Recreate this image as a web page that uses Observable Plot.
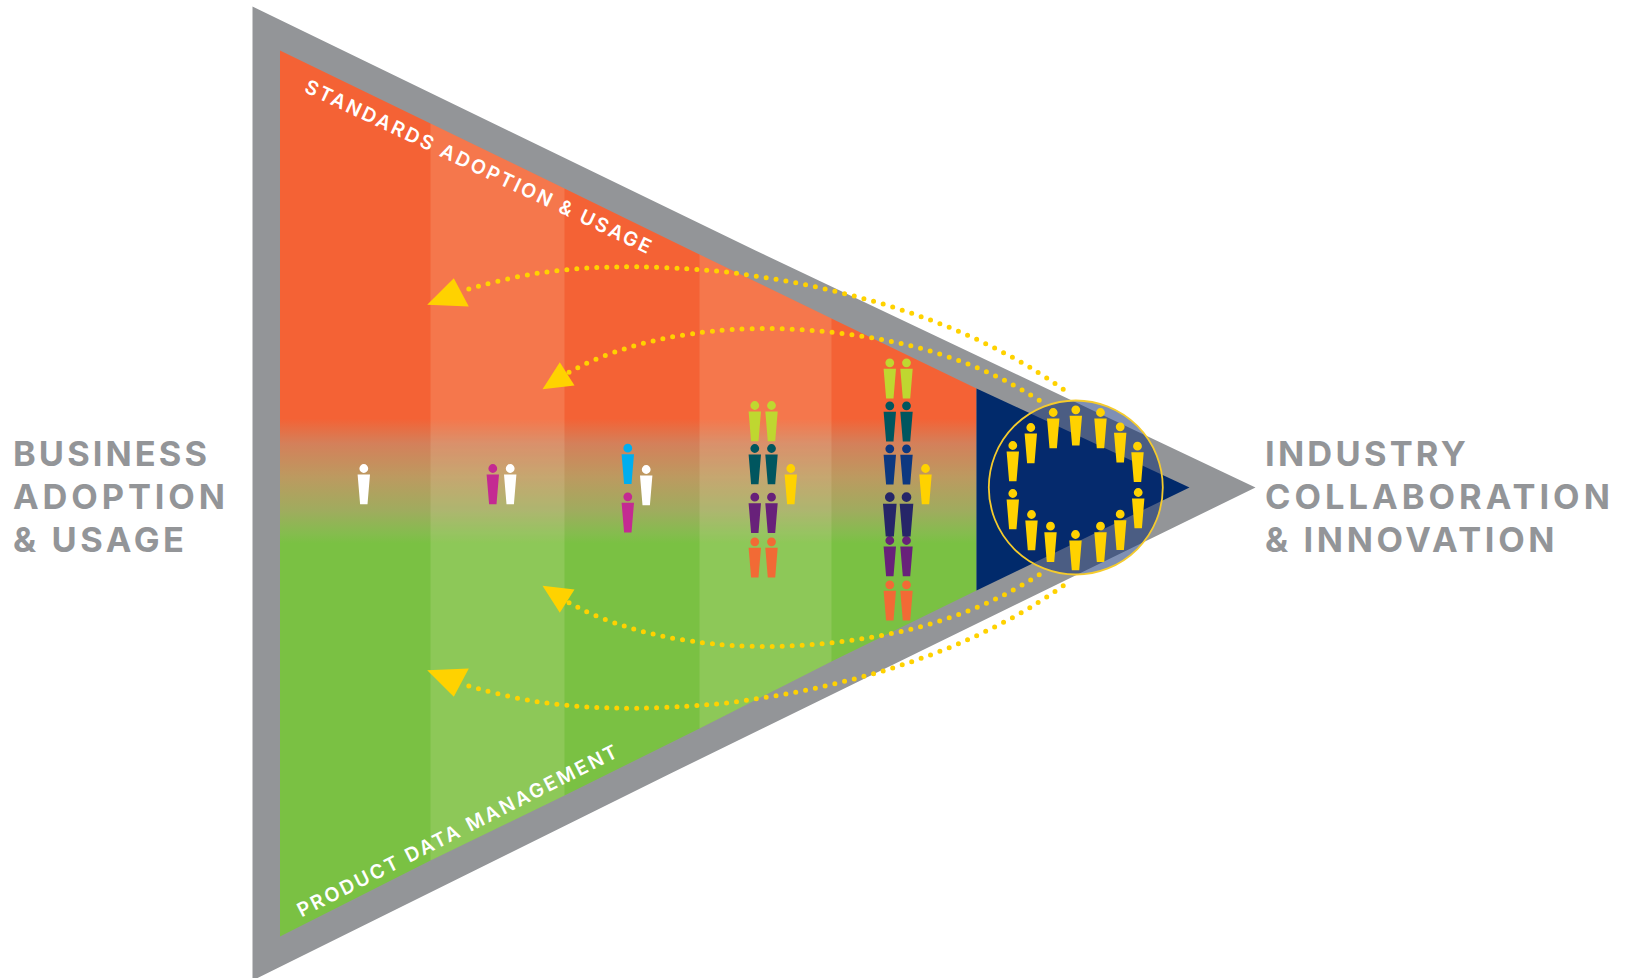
<!DOCTYPE html>
<html>
<head>
<meta charset="utf-8">
<style>html,body{margin:0;padding:0;background:#fff}svg{display:block}</style>
<script src="https://cdn.jsdelivr.net/npm/d3@7"></script>
<script src="https://cdn.jsdelivr.net/npm/@observablehq/plot@0.6"></script>
</head>
<body>
<div id="chart"></div>
<script>
// Diagram outline
const outerX = [252, 755, 1255, 670, 252];
const outerY = [6, 250, 487, 773, 980];
const fieldX = [279.5, 430, 564, 699, 831, 976, 976, 831, 699, 564, 430, 279.5];
const fieldY = [50, 123, 188, 254, 318, 388, 590, 661, 728, 795, 860, 936];
const paleAX = [430, 564, 564, 430];
const paleAY = [123, 188, 795, 860];
const paleBX = [699, 831, 831, 699];
const paleBY = [254, 318, 661, 728];
const coreX = [976, 1189, 976];
const coreY = [388, 487, 590];

// Dotted curves
const outerCurveX = [1062.7, 1029.3, 994.3, 958, 921, 883, 844.7, 805.7, 766.3, 727, 687.3, 637.3, 597.7, 558, 518.3, 470, 460];
const outerTopY = [388.7, 366.7, 347.7, 330.7, 316.3, 303.7, 293.3, 284.3, 277.3, 271.7, 268.3, 266.3, 267, 270, 276, 288, 291];
const outerBottomY = [585.3, 607.3, 626.3, 643.3, 657.7, 670.3, 680.7, 689.7, 696.7, 702.3, 705.7, 707.7, 707, 704, 698, 686, 683];
const innerCurveX = [1038.7, 1004.3, 968, 930, 891.3, 852, 812.3, 772.7, 732.7, 703, 663.7, 625, 587.7, 570, 562];
const innerTopY = [399.7, 380, 363.7, 350.7, 341, 334.3, 330, 328, 329, 331.7, 338, 348, 362, 371, 375];
const innerBottomY = [574.3, 594, 610.3, 623.3, 633, 639.7, 644, 646, 645, 642.3, 636, 626, 612, 603, 599];

// Arrow heads
const arrowAX = [453.3, 426.7, 468.3];
const arrowAY = [277.7, 304.3, 306];
const arrowBX = [559.3, 542, 574];
const arrowBY = [361.7, 388.7, 385];
const arrowCX = [559.3, 542, 574];
const arrowCY = [612.3, 585.3, 589];
const arrowDX = [453.3, 426.7, 468.3];
const arrowDY = [696.3, 669.7, 668];

// People
const peopleX = [363.3, 492.3, 509.7, 627.3, 645.7, 627.3,
  754.3, 771, 754.3, 771, 754.3, 771, 754.3, 771, 790.3,
  889.3, 906, 889.3, 906, 889.3, 906, 889.3, 906, 889.3, 906, 925];
const peopleY = [468, 468, 468, 447.7, 469, 496.3,
  405, 405, 448, 448, 496.7, 496.7, 541.3, 541.3, 468,
  362.3, 362.3, 405.3, 405.3, 448.3, 448.3, 540, 540, 584.3, 584.3, 468];
const peopleColor = ["#ffffff", "#c42a92", "#ffffff", "#00aeef", "#ffffff", "#c42a92",
  "#bfd730", "#bfd730", "#00565f", "#00565f", "#68217a", "#68217a", "#f26a35", "#f26a35", "#ffd200",
  "#bfd730", "#bfd730", "#00565f", "#00565f", "#0d3880", "#0d3880", "#68217a", "#68217a", "#f26a35", "#f26a35", "#ffd200"];
const leadX = [889.3, 906];
const leadY = [496.7, 496.7];
const leadColor = ["#262668", "#262668"];
const ringPeopleX = [1012.3, 1030.3, 1052.7, 1075.3, 1100, 1119.7, 1137, 1012.3, 1031, 1050, 1075, 1100, 1119.7, 1137.7];
const ringPeopleY = [445, 427, 412, 409.3, 412, 426.3, 445.7, 493, 514, 525.7, 534, 525.7, 513.7, 492];

// Labels
const leftLabels = ["BUSINESS", "ADOPTION", "& USAGE"];
const rightLabels = ["INDUSTRY", "COLLABORATION", "& INNOVATION"];
const labelY = [465, 508.3, 551.7];
const leftTracking = [3.1, 3.9, 3.6];
const rightTracking = [3.25, 4.05, 3.65];

const rows = (x, y, extra) => x.map((v, i) => ({x: v, y: y[i], c: extra ? extra[i] : null}));
const GREY = "#939598", YELLOW = "#ffd200", FONT = "Inter, 'Open Sans', sans-serif";

const personSymbol = {
  draw(ctx, size) {
    const s = Math.sqrt(size / Math.PI) / 6;
    const r = 4.4 * s;
    ctx.moveTo(r, 0);
    ctx.arc(0, 0, r, 0, 2 * Math.PI);
    ctx.closePath();
    ctx.moveTo(-6.2 * s, 6 * s);
    ctx.lineTo(6.2 * s, 6 * s);
    ctx.lineTo(3.7 * s, 35.8 * s);
    ctx.lineTo(-3.7 * s, 35.8 * s);
    ctx.closePath();
  }
};
const spaced = (px) => function(index, scales, values, dims, ctx, next) {
  const g = next(index, scales, values, dims, ctx);
  g.querySelectorAll("text").forEach((t, i) => { t.style.letterSpacing = (Array.isArray(px) ? px[i] : px) + "px"; });
  return g;
};
const poly = (x, y, options) => Plot.line(rows(x, y), {x: "x", y: "y", stroke: "none", ...options});
const dotted = (x, y) => Plot.line(rows(x, y), {x: "x", y: "y", stroke: YELLOW, strokeWidth: 5, strokeLinecap: "round", strokeDasharray: "0 10", curve: "catmull-rom"});
const people = (x, y, c, r) => Plot.dot(rows(x, y, c), {x: "x", y: "y", fill: "c", symbol: personSymbol, r, stroke: "none"});

const defs = () => {
  const ns = "http://www.w3.org/2000/svg";
  const d = document.createElementNS(ns, "defs");
  d.innerHTML = `<linearGradient id="fieldFill" gradientUnits="userSpaceOnUse" x1="0" x2="0" y1="418" y2="543">
    <stop offset="0" stop-color="#f46235"/>
    <stop offset="0.2" stop-color="#d4805a"/>
    <stop offset="0.47" stop-color="#bc9a60"/>
    <stop offset="0.74" stop-color="#9fac5e"/>
    <stop offset="0.92" stop-color="#85bc4e"/>
    <stop offset="1" stop-color="#7ac143"/>
  </linearGradient>`;
  return d;
};

const chart = Plot.plot({
  width: 1625,
  height: 978,
  margin: 0,
  x: {domain: [0, 1625], range: [0, 1625], axis: null},
  y: {domain: [0, 978], range: [0, 978], axis: null},
  color: {type: "identity"},
  style: {background: "#fff"},
  marks: [
    defs,
    poly(outerX, outerY, {fill: GREY}),
    poly(fieldX, fieldY, {fill: "url(#fieldFill)"}),
    poly(paleAX, paleAY, {fill: "#fff4d0", fillOpacity: 0.15}),
    poly(paleBX, paleBY, {fill: "#fff4d0", fillOpacity: 0.15}),
    poly(coreX, coreY, {fill: "#012a6b"}),
    Plot.dot([{x: 1075.3, y: 487}], {x: "x", y: "y", r: 87, fill: "#0a2a70", fillOpacity: 0.52, stroke: "#f5cb2c", strokeWidth: 1.8}),
    dotted(outerCurveX, outerTopY),
    dotted(outerCurveX, outerBottomY),
    dotted(innerCurveX, innerTopY),
    dotted(innerCurveX, innerBottomY),
    poly(arrowAX, arrowAY, {fill: YELLOW}),
    poly(arrowBX, arrowBY, {fill: YELLOW}),
    poly(arrowCX, arrowCY, {fill: YELLOW}),
    poly(arrowDX, arrowDY, {fill: YELLOW}),
    people(peopleX, peopleY, peopleColor, 6),
    people(leadX, leadY, leadColor, 6.6),
    people(ringPeopleX, ringPeopleY, ringPeopleX.map(() => YELLOW), 6),
    Plot.text(leftLabels, {x: () => 12.5, y: (d, i) => labelY[i], text: (d) => d, textAnchor: "start", lineAnchor: "bottom", fill: GREY, fontFamily: FONT, fontWeight: 700, fontSize: 34.4, render: spaced(leftTracking)}),
    Plot.text(rightLabels, {x: () => 1264.5, y: (d, i) => labelY[i], text: (d) => d, textAnchor: "start", lineAnchor: "bottom", fill: GREY, fontFamily: FONT, fontWeight: 700, fontSize: 34.4, render: spaced(rightTracking)}),
    Plot.text(["STANDARDS ADOPTION & USAGE"], {x: () => 478.5, y: () => 167.2, text: (d) => d, rotate: 25.3, fill: "#fff", fontFamily: FONT, fontWeight: 600, fontSize: 19.5, render: spaced(2.5)}),
    Plot.text(["PRODUCT DATA MANAGEMENT"], {x: () => 458, y: () => 830.4, text: (d) => d, rotate: -26.9, fill: "#fff", fontFamily: FONT, fontWeight: 600, fontSize: 19.5, render: spaced(2.5)})
  ]
});
document.getElementById("chart").append(chart);
</script>
</body>
</html>
